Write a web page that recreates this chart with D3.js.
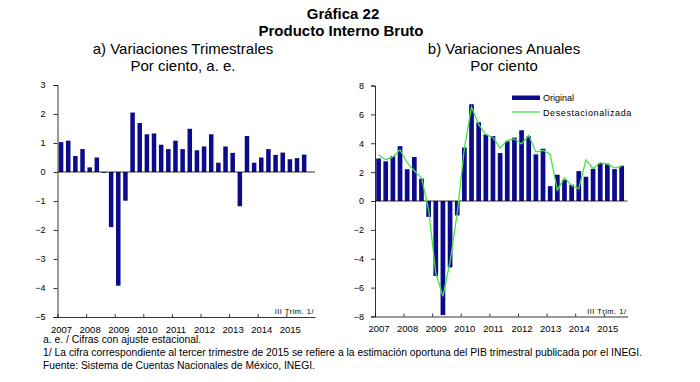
<!DOCTYPE html>
<html><head><meta charset="utf-8">
<script src="https://cdn.jsdelivr.net/npm/d3@7"></script>
<style>
body{margin:0;background:#fff;}
text{font-family:"Liberation Sans",Arial,sans-serif;}
</style></head><body>
<svg id="c" width="700" height="382"></svg>
<script>
// ---- data ----
const years = [2007,2008,2009,2010,2011,2012,2013,2014,2015];
const quarters = [];
years.forEach(y => [1,2,3,4].forEach(q => { if (!(y===2015 && q===4)) quarters.push({year:y, q:q}); }));

const trimestral = [1.03,1.08,0.55,0.79,0.16,0.50,-0.03,-1.90,-3.92,-0.99,
  2.05,1.69,1.30,1.33,0.94,0.79,1.08,0.79,1.49,0.75,0.88,1.30,0.32,0.88,0.66,
  -1.18,1.24,0.32,0.50,0.79,0.59,0.67,0.44,0.48,0.60];

const anualOriginal = [2.95,2.75,3.10,3.80,2.20,3.05,1.55,-1.10,-5.20,-7.90,-4.60,-1.00,
  3.70,6.70,5.45,4.60,4.50,3.32,4.13,4.39,4.90,4.48,3.23,3.62,1.03,1.82,1.47,1.12,
  2.07,1.68,2.23,2.63,2.58,2.21,2.44];

const anualDesest = [3.20,2.86,3.05,3.55,2.65,2.10,1.60,-0.60,-5.00,-6.60,-4.20,-0.85,
  3.65,6.50,5.30,4.60,4.40,3.65,4.20,4.30,3.95,4.55,3.40,3.50,3.25,0.75,1.60,1.07,
  0.85,2.85,2.25,2.65,2.55,2.30,2.40];

const leftTicks = [-5,-4,-3,-2,-1,0,1,2,3];
const rightTicks = [-8,-6,-4,-2,0,2,4,6,8];

const titles = ["Gráfica 22","Producto Interno Bruto"];
const subLeft = ["a) Variaciones Trimestrales","Por ciento, a. e."];
const subRight = ["b) Variaciones Anuales","Por ciento"];
const notes = ["a. e. / Cifras con ajuste estacional.",
 "1/ La cifra correspondiente al tercer trimestre de 2015 se refiere a la estimación oportuna del PIB trimestral publicada por el INEGI.",
 "Fuente: Sistema de Cuentas Nacionales de México, INEGI."];
const legendLabels = ["Original","Desestacionalizada"];
const trimLabel = "III Trim. 1/";

// ---- drawing ----
const svg = d3.select("#c");
svg.append("rect").attr("width",700).attr("height",382).attr("fill","#fff");
const BAR = "#0b0b8c", GREEN = "#44e444";

function tpos(d){ return d.year + (d.q-0.5)/4; }

svg.append("text").attr("x",343).attr("y",19).attr("text-anchor","middle")
  .attr("font-weight","bold").attr("font-size",15).text(titles[0]);
svg.append("text").attr("x",341).attr("y",36).attr("text-anchor","middle")
  .attr("font-weight","bold").attr("font-size",15).text(titles[1]);

function panel(opt){
  const x = d3.scaleLinear().domain([2007, opt.xEndYear]).range([opt.x0, opt.x1]);
  const y = d3.scaleLinear().domain([opt.ticks[0], opt.ticks[opt.ticks.length-1]]).range([opt.yb, opt.yt]);
  const g = svg.append("g");
  const bw = opt.bw;
  // subtitles
  g.append("text").attr("x",opt.cx).attr("y",53.5).attr("text-anchor","middle")
    .attr("font-size",15).text(opt.sub[0]);
  g.append("text").attr("x",opt.cx).attr("y",70.5).attr("text-anchor","middle")
    .attr("font-size",15).text(opt.sub[1]);
  // bars
  g.selectAll("rect.bar").data(opt.values).join("rect").attr("class","bar")
    .attr("x",(d,i)=>x(tpos(quarters[i]))-bw/2)
    .attr("width",bw)
    .attr("y",d=>y(Math.max(0,d)))
    .attr("height",d=>Math.abs(y(d)-y(0)))
    .attr("fill",BAR);
  // zero line
  g.append("line").attr("x1",opt.x0).attr("x2",opt.x1).attr("y1",y(0)).attr("y2",y(0))
    .attr("stroke","#000").attr("stroke-width",0.8);
  // line
  if (opt.line){
    g.append("path").datum(opt.line)
      .attr("d", d3.line().x((d,i)=>x(tpos(quarters[i]))).y(d=>y(d)))
      .attr("fill","none").attr("stroke",GREEN).attr("stroke-width",1.3);
  }
  // y axis
  const ya = g.append("g").attr("transform",`translate(${opt.x0},0)`)
    .call(d3.axisLeft(y).tickValues(opt.ticks).tickSize(4).tickPadding(opt.tpad).tickFormat(d3.format("d")));
  ya.selectAll("text").attr("font-size",9).attr("font-family","Liberation Sans, Arial, sans-serif");
  ya.selectAll("line,path").attr("stroke","#000").attr("stroke-width",0.8);
  // x axis
  const xa = g.append("g").attr("transform",`translate(0,${opt.yb})`)
    .call(d3.axisBottom(x).tickValues(years).tickSizeInner(-3).tickSizeOuter(0).tickPadding(9).tickFormat(d3.format("d")));
  xa.selectAll("text").attr("font-size",9.5).attr("dx",3.5).attr("font-family","Liberation Sans, Arial, sans-serif");
  xa.selectAll("line,path").attr("stroke","#000").attr("stroke-width",0.8);
  // III Trim
  g.append("text").attr("x",opt.x1-1).attr("y",opt.yb-3).attr("text-anchor","end")
    .attr("font-size",7.5).attr("letter-spacing",0.5).text(trimLabel);
  return {x,y,g};
}

panel({x0:57.5, x1:315, xEndYear:2007+(315-57.5)/28.6, yt:85, yb:317, ticks:leftTicks,
  values:trimestral, bw:4.5, cx:183, sub:subLeft, tpad:8});
panel({x0:375, x1:627.5, xEndYear:2007+(627.5-375)/28.6, yt:85.5, yb:316.5, ticks:rightTicks,
  values:anualOriginal, line:anualDesest, bw:4.7, cx:504, sub:subRight, tpad:7});

// legend
const lg = svg.append("g");
lg.append("rect").attr("x",512).attr("y",95.5).attr("width",28).attr("height",4.5).attr("fill",BAR);
lg.append("line").attr("x1",512).attr("x2",540).attr("y1",112).attr("y2",112).attr("stroke",GREEN).attr("stroke-width",1.3);
lg.selectAll("text").data(legendLabels).join("text")
  .attr("x",543).attr("y",(d,i)=>98+i*14.5+3.2).attr("font-size",9)
  .attr("letter-spacing",(d,i)=>i===1?0.6:0).text(d=>d);

// notes
svg.selectAll("text.note").data(notes).join("text").attr("class","note")
  .attr("x",43).attr("y",(d,i)=>343+i*13).attr("font-size",10.35).text(d=>d);
</script></body></html>
